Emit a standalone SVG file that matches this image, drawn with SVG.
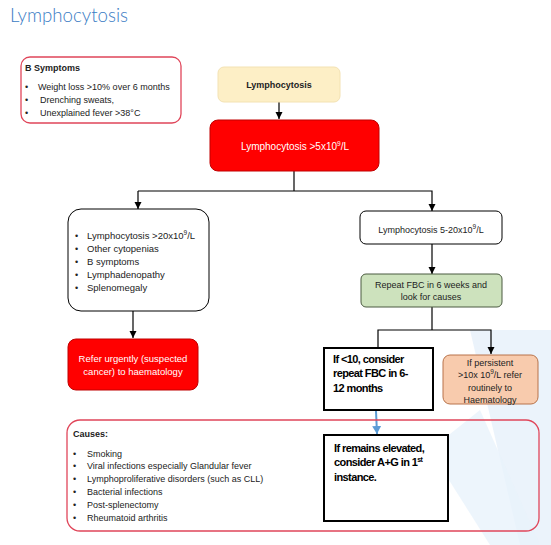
<svg xmlns="http://www.w3.org/2000/svg" width="551" height="545" viewBox="0 0 551 545">
<defs>
<style>
text{font-family:"Liberation Sans",Arial,sans-serif;font-size:9px;fill:#222}
.b{font-weight:bold}
.w{fill:#fff}
.c{text-anchor:middle}
.k{font-weight:bold;font-size:11px;fill:#000;letter-spacing:-0.6px}
.conn{stroke:#000;stroke-width:1.2;fill:none}
.sup{font-size:6.5px}
</style>
<marker id="ah" markerWidth="8" markerHeight="8" refX="7" refY="4" orient="auto" markerUnits="userSpaceOnUse">
<path d="M0,0.5 L7,4 L0,7.5 Z" fill="#000"/>
</marker>
<marker id="ahb" markerWidth="10" markerHeight="10" refX="8" refY="5" orient="auto" markerUnits="userSpaceOnUse">
<path d="M0,0.5 L8,5 L0,9.5 Z" fill="#5b9bd5"/>
</marker>
</defs>
<rect width="551" height="545" fill="#fff"/>
<g id="watermark" fill="#e9f2fb">
<path d="M470,330 L551,330 L551,545 L520,545 Z" opacity="0.9"/>
<path d="M430,450 L480,410 L540,545 L490,545 Z" opacity="0.8"/>
</g>
<text x="10" y="22" textLength="118" lengthAdjust="spacingAndGlyphs" style="font-family:Lato,'Open Sans',sans-serif;font-weight:300;font-size:19px;fill:#3a7cc4">Lymphocytosis</text>

<g id="bsymptoms">
<rect x="21" y="57" width="160" height="66" rx="9" fill="#fff" stroke="#e0465a" stroke-width="1.3"/>
<text x="25" y="71" class="b">B Symptoms</text>
<text x="25" y="90">•</text><text x="38" y="90">Weight loss &gt;10% over 6 months</text>
<text x="25" y="103">•</text><text x="40" y="103">Drenching sweats,</text>
<text x="25" y="116">•</text><text x="40" y="116">Unexplained fever &gt;38°C</text>
</g>

<g id="connectors">
<line x1="279" y1="102" x2="279" y2="119" class="conn" marker-end="url(#ah)"/>
<polyline points="294,171 294,191" class="conn"/>
<polyline points="138,191 432,191 432,211" class="conn" marker-end="url(#ah)"/>
<line x1="138" y1="191" x2="138" y2="209" class="conn" marker-end="url(#ah)"/>
<line x1="133" y1="311" x2="133" y2="338" class="conn" marker-end="url(#ah)"/>
<line x1="432" y1="244" x2="432" y2="274" class="conn" marker-end="url(#ah)"/>
<polyline points="432,307 432,330" class="conn"/>
<polyline points="378,347 378,330 491,330 491,354" class="conn" marker-end="url(#ah)"/>
<line x1="376" y1="411" x2="377" y2="434" stroke="#5b9bd5" stroke-width="2" marker-end="url(#ahb)"/>
</g>

<g id="start">
<rect x="218" y="67" width="122" height="35" rx="6" fill="#fdefc6" stroke="#f3e2b3" stroke-width="1"/>
<text x="279" y="88" class="b c">Lymphocytosis</text>
</g>

<g id="main">
<rect x="210" y="120" width="169" height="51" rx="8" fill="#ff0000" stroke="#c00000" stroke-width="1"/>
<text x="295" y="150" class="w c" style="font-size:10px">Lymphocytosis &gt;5x10<tspan class="sup" dy="-4">9</tspan><tspan dy="4">/L</tspan></text>
</g>

<g id="highrisk">
<rect x="68" y="209" width="141" height="102" rx="13" fill="#fff" stroke="#000" stroke-width="1"/>
<text x="75" y="239">•</text><text x="87" y="239" style="font-size:9.5px">Lymphocytosis &gt;20x10<tspan class="sup" dy="-4">9</tspan><tspan dy="4">/L</tspan></text>
<text x="75" y="252">•</text><text x="87" y="252" style="font-size:9.5px">Other cytopenias</text>
<text x="75" y="265">•</text><text x="87" y="265" style="font-size:9.5px">B symptoms</text>
<text x="75" y="278">•</text><text x="87" y="278" style="font-size:9.5px">Lymphadenopathy</text>
<text x="75" y="291">•</text><text x="87" y="291" style="font-size:9.5px">Splenomegaly</text>
</g>

<g id="refer">
<rect x="68" y="339" width="130" height="51" rx="8" fill="#ff0000" stroke="#c00000" stroke-width="1"/>
<text x="133" y="362" class="w c" style="font-size:9.5px">Refer urgently (suspected</text>
<text x="133" y="375" class="w c" style="font-size:9.5px">cancer) to haematology</text>
</g>

<g id="moderate">
<rect x="360" y="211" width="142" height="33" rx="6" fill="#fff" stroke="#000" stroke-width="1"/>
<text x="431" y="233" class="c">Lymphocytosis 5-20x10<tspan class="sup" dy="-4">9</tspan><tspan dy="4">/L</tspan></text>
</g>

<g id="repeat">
<rect x="361" y="274" width="141" height="33" rx="5" fill="#cde2bd" stroke="#4a5a40" stroke-width="1"/>
<text x="431" y="288" class="c">Repeat FBC in 6 weeks and</text>
<text x="431" y="300" class="c">look for causes</text>
</g>

<g id="persistent">
<rect x="443" y="355" width="95" height="49" rx="7" fill="#f8cbad" stroke="#b8734a" stroke-width="1"/>
<text x="490" y="366" class="c">If persistent</text>
<text x="490" y="378" class="c">&gt;10x 10<tspan class="sup" dy="-4">9</tspan><tspan dy="4">/L refer</tspan></text>
<text x="490" y="391" class="c">routinely to</text>
<text x="490" y="403" class="c">Haematology</text>
</g>

<g id="causes">
<rect x="67" y="420" width="472" height="111" rx="13" fill="none" stroke="#e0465a" stroke-width="1.3"/>
<text x="73" y="437" class="b">Causes:</text>
<text x="73" y="457">•</text><text x="87" y="457">Smoking</text>
<text x="73" y="469">•</text><text x="87" y="469">Viral infections especially Glandular fever</text>
<text x="73" y="482">•</text><text x="87" y="482">Lymphoproliferative disorders (such as CLL)</text>
<text x="73" y="495">•</text><text x="87" y="495">Bacterial infections</text>
<text x="73" y="508">•</text><text x="87" y="508">Post-splenectomy</text>
<text x="73" y="521">•</text><text x="87" y="521">Rheumatoid arthritis</text>
</g>

<g id="lessthan10">
<rect x="324" y="348" width="109" height="62" fill="#fff" stroke="#000" stroke-width="2"/>
<text x="333" y="363" class="k">If &lt;10, consider</text>
<text x="333" y="377" class="k">repeat FBC in 6-</text>
<text x="333" y="392" class="k">12 months</text>
</g>

<g id="elevated">
<rect x="324" y="435" width="124" height="86" fill="#fff" stroke="#000" stroke-width="2"/>
<text x="334" y="452" class="k">If remains elevated,</text>
<text x="334" y="466" class="k">consider A+G in 1<tspan style="font-size:7px" dy="-4">st</tspan></text>
<text x="334" y="481" class="k">instance.</text>
</g>
</svg>
